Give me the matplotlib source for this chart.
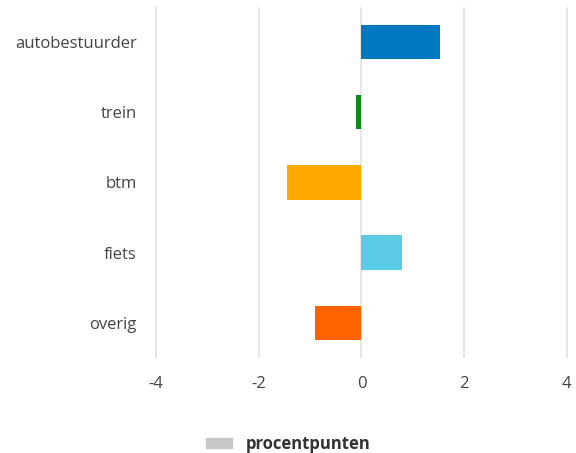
import matplotlib as mpl
import matplotlib.pyplot as plt
from matplotlib.patches import Patch
mpl.rcParams['font.family'] = ['Open Sans', 'DejaVu Sans']

# data
categories = ['autobestuurder', 'trein', 'btm', 'fiets', 'overig']
values = [1.53, -0.11, -1.45, 0.79, -0.9]
colors = ['#0079C2', '#0B8A1E', '#FFAA00', '#5BCAE7', '#FF6200']
xticks = [-4, -2, 0, 2, 4]

fig = plt.figure(figsize=(5.76, 4.53), dpi=100)
ax = fig.add_axes([0.2708, 0.2097, 0.7152, 0.775])

ypos = list(range(len(categories)))
ax.barh(ypos, values, height=0.49, color=colors, zorder=3)
ax.set_ylim(len(categories) - 0.5, -0.5)
ax.set_xlim(-4, 4.02)
ax.set_yticks(ypos)
ax.set_yticklabels(categories, fontsize=12, color='#444444')
ax.set_xticks(xticks)
ax.set_xticklabels([str(t) for t in xticks], fontsize=12, color='#444444')
ax.tick_params(axis='both', length=0)
ax.tick_params(axis='y', pad=14)
ax.tick_params(axis='x', pad=13)

ax.grid(axis='x', color='#e3e3e3', linewidth=1.2, zorder=0)
for s in ['top', 'right', 'bottom']:
    ax.spines[s].set_visible(False)
ax.spines['left'].set_color('#d5e6f2')
ax.spines['left'].set_linewidth(1.2)
ax.spines['left'].set_zorder(1)

leg = fig.legend(handles=[Patch(color='#c8c8c8', label='procentpunten')],
                 loc='center', bbox_to_anchor=(0.5, 0.02), frameon=False,
                 handlelength=1.6, handleheight=0.5,
                 prop={'size': 12, 'weight': 'bold'})
for t in leg.get_texts():
    t.set_color('#333333')

fig.savefig('out.png', dpi=100)
